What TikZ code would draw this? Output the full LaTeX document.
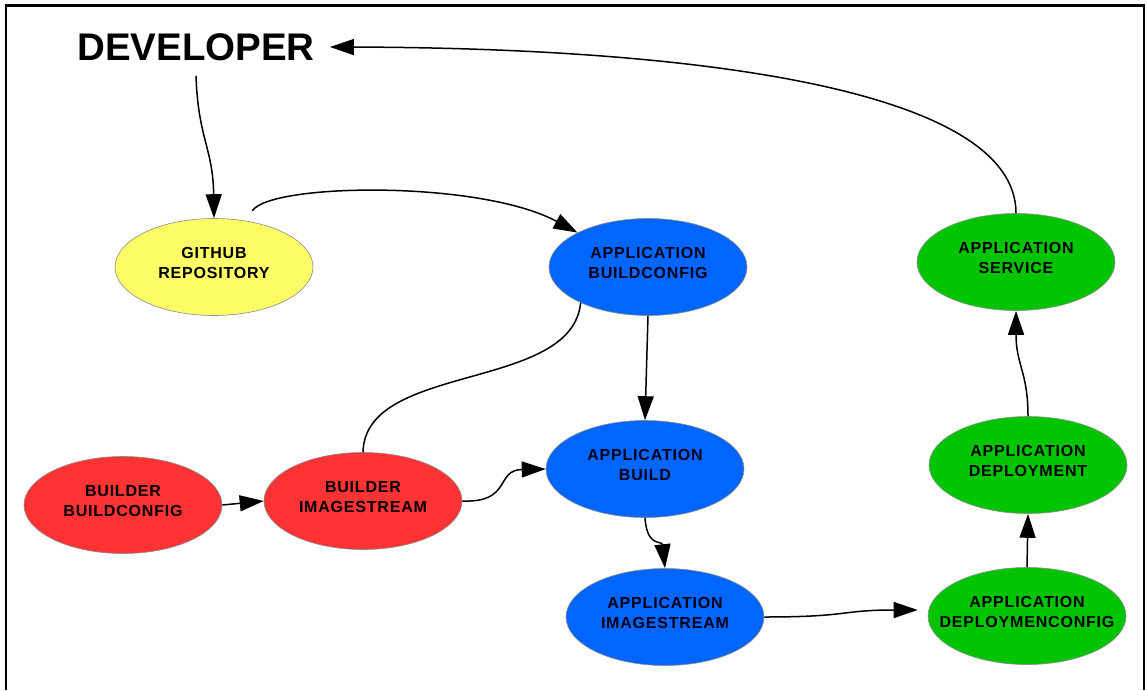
\documentclass[tikz,border=0pt]{standalone}
\usepackage{fontspec}
\setmainfont{Liberation Sans}
\newfontfamily\labfont{Liberation Sans Bold}[LetterSpace=5]
\usetikzlibrary{shapes.geometric,arrows.meta}
\definecolor{gyellow}{HTML}{FCFC66}
\definecolor{gblue}{HTML}{0066FF}
\definecolor{gred}{HTML}{FF3333}
\definecolor{ggreen}{HTML}{00C400}
\tikzset{
  ell/.style={ellipse, minimum width=198pt, minimum height=97pt,
    inner xsep=-30pt, inner ysep=0pt, text depth=8pt,
    draw=black!45, line width=0.6pt, align=center,
    font=\labfont\fontsize{16}{20}\selectfont},
  yel/.style={ell, fill=gyellow},
  blu/.style={ell, fill=gblue, text=black!90!blue},
  rd/.style={ell, fill=gred},
  grn/.style={ell, fill=ggreen},
  conn/.style={line width=1.5pt, draw=black},
  arr/.style={conn, -{Triangle[length=24pt,width=16pt]}}
}
\begin{document}
\begin{tikzpicture}[x=1pt,y=-1pt]
\useasboundingbox (0,0) rectangle (1147,690);
\fill[white] (0,0) rectangle (1147,690);
\draw[line width=2.5pt] (6,690) -- (6,5.3) -- (1144,5.3) -- (1144,690);

\node[inner sep=15pt, font=\bfseries\fontsize{38.5}{42}\selectfont] (dev) at (196,47) {DEVELOPER};

\node[yel] (gh)  at (214,267) {GITHUB\\REPOSITORY};
\node[blu] (abc) at (648,267) {APPLICATION\\BUILDCONFIG};
\node[grn] (svc) at (1016,262) {APPLICATION\\SERVICE};
\node[rd]  (bbc) at (123,505) {BUILDER\\BUILDCONFIG};
\node[rd]  (bis) at (363,501) {BUILDER\\IMAGESTREAM};
\node[blu] (ab)  at (645,469) {APPLICATION\\BUILD};
\node[blu] (aim) at (665,617) {APPLICATION\\IMAGESTREAM};
\node[grn] (dep) at (1028,465) {APPLICATION\\DEPLOYMENT};
\node[grn] (dc)  at (1027,616) {APPLICATION\\DEPLOYMENCONFIG};

\draw[arr] (dev.south) .. controls (198,138) and (213,148) .. (gh.north);
\draw[arr] ([shift={(6,-10)}]gh.55) .. controls (270,183) and (480,180) .. (abc.154);
\draw[conn] (abc.208) .. controls (572,392) and (365,362) .. (bis.north);
\draw[arr] (abc.south) -- (ab.north);
\draw[arr] (bbc.east) -- (bis.west);
\draw[arr] (bis.east) .. controls (512,503) and (495,470) .. (ab.west);
\draw[arr] (ab.south) .. controls (647,548) and (662,540) .. (aim.north);
\draw[arr] (aim.east) .. controls (850,617) and (840,610) .. ([shift={(-10,-6)}]dc.west);
\draw[arr] (dc.north) -- (dep.south);
\draw[arr] (dep.north) .. controls (1028,372) and (1016,365) .. (svc.south);
\draw[arr] (svc.north) .. controls (1016,90) and (700,48) .. (dev.east);
\end{tikzpicture}
\end{document}
